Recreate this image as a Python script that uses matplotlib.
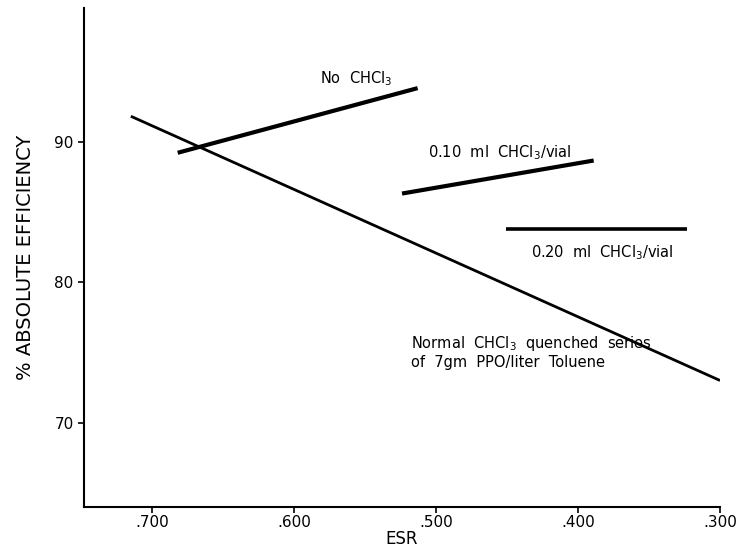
import matplotlib.pyplot as plt

# ESR vs % absolute efficiency
normal_esr = [0.715, 0.300]
normal_eff = [91.8, 73.0]

no_chcl3_esr = [0.682, 0.513]
no_chcl3_eff = [89.2, 93.8]

ml010_esr = [0.524, 0.389]
ml010_eff = [86.3, 88.65]

ml020_esr = [0.451, 0.323]
ml020_eff = [83.8, 83.8]

x_ticks = [0.700, 0.600, 0.500, 0.400, 0.300]
x_tick_labels = ['.700', '.600', '.500', '.400', '.300']
y_ticks = [70, 80, 90]

fig = plt.figure(figsize=(7.42, 5.52), dpi=100)
ax = fig.add_axes([0.1132, 0.0815, 0.8572, 0.904])

ax.plot(normal_esr, normal_eff, color='black', lw=2.0, solid_capstyle='butt')
ax.plot(no_chcl3_esr, no_chcl3_eff, color='black', lw=3.0, solid_capstyle='butt')
ax.plot(ml010_esr, ml010_eff, color='black', lw=3.0, solid_capstyle='butt')
ax.plot(ml020_esr, ml020_eff, color='black', lw=2.6, solid_capstyle='butt')

ax.set_xlim(0.748, 0.300)
ax.set_ylim(64.0, 99.5)

ax.spines['top'].set_visible(False)
ax.spines['right'].set_visible(False)
ax.spines['left'].set_linewidth(1.5)
ax.spines['bottom'].set_linewidth(1.5)

ax.set_xticks(x_ticks)
ax.set_xticklabels(x_tick_labels)
ax.set_yticks(y_ticks)
ax.tick_params(axis='both', direction='out', length=4, width=1.2, labelsize=11)
ax.tick_params(axis='x', pad=2)

ax.set_xlabel('ESR', fontsize=12, labelpad=0)
ax.set_ylabel('% ABSOLUTE EFFICIENCY', fontsize=14, labelpad=14)

txt = dict(fontsize=10.5, color='black')
ax.text(0.582, 94.45, 'No  CHCl$_3$', ha='left', va='center', **txt)
ax.text(0.506, 89.2, '0.10  ml  CHCl$_3$/vial', ha='left', va='center', **txt)
ax.text(0.433, 82.1, '0.20  ml  CHCl$_3$/vial', ha='left', va='center', **txt)
ax.text(0.518, 75.6, 'Normal  CHCl$_3$  quenched  series', ha='left', va='center', **txt)
ax.text(0.518, 74.3, 'of  7gm  PPO/liter  Toluene', ha='left', va='center', **txt)

fig.savefig('out.png', dpi=100)
